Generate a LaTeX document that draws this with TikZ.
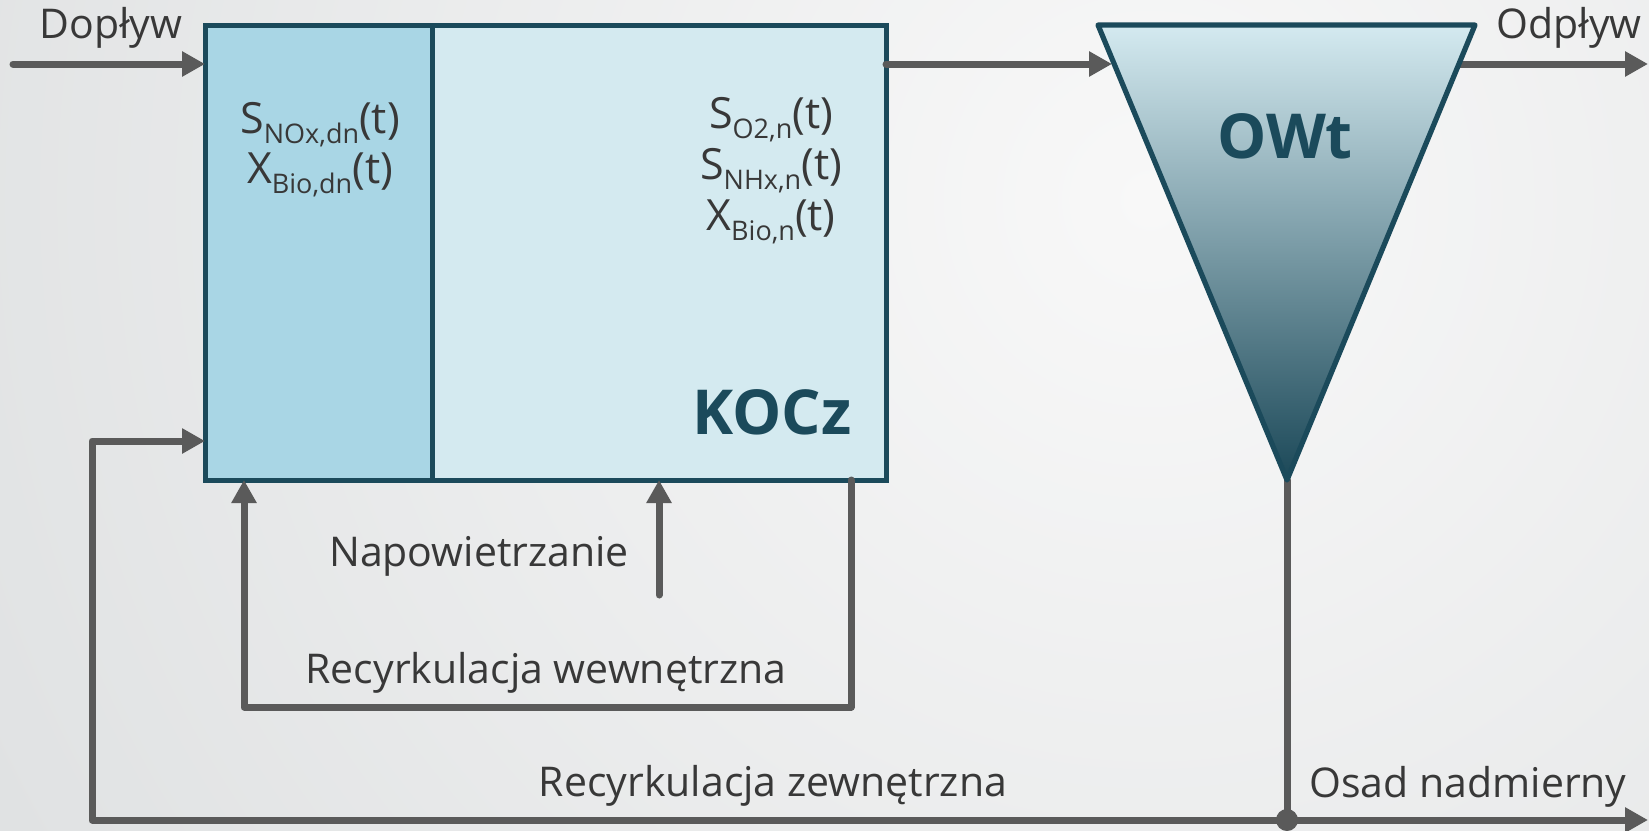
\documentclass[tikz,border=0pt]{standalone}
\usepackage{fontspec}
\setmainfont{Open Sans}
\usetikzlibrary{arrows.meta}
\definecolor{txt}{HTML}{383838}
\definecolor{arr}{HTML}{5A5A5A}
\definecolor{teal}{HTML}{1B4A5B}
\definecolor{dnfill}{HTML}{A9D6E5}
\definecolor{nfill}{HTML}{D4EAF0}
\definecolor{bgin}{HTML}{F8F8F8}
\definecolor{bgout}{HTML}{C8CCCE}
\definecolor{trtop}{HTML}{D4EAF0}
\definecolor{trmid}{HTML}{A0B7BF}
\definecolor{trbot}{HTML}{1B4858}
\newcommand\sbx[1]{\raisebox{-5pt}{\fontsize{13.5pt}{13.5pt}\selectfont #1}}
\tikzset{
  flow/.style={draw=arr, line width=3.5pt, line cap=round, line join=round, -{Triangle[length=11.5pt,width=12pt]}},
  plain/.style={draw=arr, line width=3.5pt, line cap=round, line join=round},
  tank/.style={draw=teal, line width=2.5pt, outer sep=0pt, inner sep=0pt, anchor=north west},
  lbl/.style={text=txt, inner sep=0pt, anchor=base, font=\fontsize{20.5pt}{24pt}\selectfont},
  frm/.style={text=txt, inner sep=0pt, anchor=base, font=\fontsize{21.5pt}{24pt}\selectfont},
  big/.style={text=teal, inner sep=0pt, font=\fontsize{31pt}{34pt}\selectfont\bfseries}
}
\begin{document}
\begin{tikzpicture}[x=0.5pt,y=-0.5pt]
\useasboundingbox (0,0) rectangle (1649,830);
\begin{scope}
\clip (0,0) rectangle (1649,830);
\shade[inner color=bgin, outer color=bgout] (1150,200) circle (1300pt);
\end{scope}
% coordinates
\coordinate (inflow) at (13,64);
\coordinate (owtin) at (1112,64);
\coordinate (owtout) at (1459,64);
\coordinate (outend) at (1648,64);
\coordinate (tl) at (1098,25);
\coordinate (tr) at (1475,25);
\coordinate (apex) at (1287,480);
\coordinate (junc) at (1287,820);
\coordinate (sludge) at (1648,820);
\coordinate (extL) at (92,820);
\coordinate (extT) at (92,441);
\coordinate (irR) at (851,707);
\coordinate (irL) at (244,707);
\coordinate (air) at (659,595);
% tanks
\node[tank, fill=dnfill, minimum width=113.5pt, minimum height=227.5pt] (dn) at (205,25) {};
\node[tank, fill=nfill, minimum width=227pt, minimum height=227.5pt] (n) at (432,25) {};
% connectors
\draw[flow] (inflow) -- (inflow -| dn.west);
\draw[flow] (n.east |- inflow) -- (owtin);
\draw[flow] (owtout) -- (outend);
\draw[plain] (apex) -- (junc);
\draw[flow] (junc) -- (sludge);
\draw[flow] (junc) -- (extL) -- (extT) -- (extT -| dn.west);
\draw[flow] (n.south -| irR) -- (irR) -- (irL) -- (irL |- dn.south);
\draw[flow] (air) -- (air |- n.south);
\fill[arr] (junc) circle (5.5pt);
% settler
\shade[top color=trtop, middle color=trmid, bottom color=trbot] (tl) -- (tr) -- (apex) -- cycle;
\draw[teal, line width=2.6pt, line join=round] (tl) -- (tr) -- (apex) -- cycle;
% texts
\node[lbl] (tdop) at (111,39) {Dopływ};
\node[lbl] (todp) at (1569,39) {Odpływ};
\node[frm] (t1) at (320,133) {S\sbx{NOx,dn}(t)};
\node[frm] (t2) at (320,183) {X\sbx{Bio,dn}(t)};
\node[frm] (t3) at (771,128) {S\sbx{O2,n}(t)};
\node[frm] (t4) at (771,179) {S\sbx{NHx,n}(t)};
\node[frm] (t5) at (771,230) {X\sbx{Bio,n}(t)};
\node[big, anchor=base east] (tkocz) at (852,434) {KOCz};
\node[big, anchor=base] (towt) at (1285,158) {OWt};
\node[lbl] (tnap) at (479,566) {Napowietrzanie};
\node[lbl] (twew) at (546,683) {Recyrkulacja wewnętrzna};
\node[lbl] (tzew) at (773,796) {Recyrkulacja zewnętrzna};
\node[lbl] (tosad) at (1468,797) {Osad nadmierny};
\end{tikzpicture}
\end{document}
